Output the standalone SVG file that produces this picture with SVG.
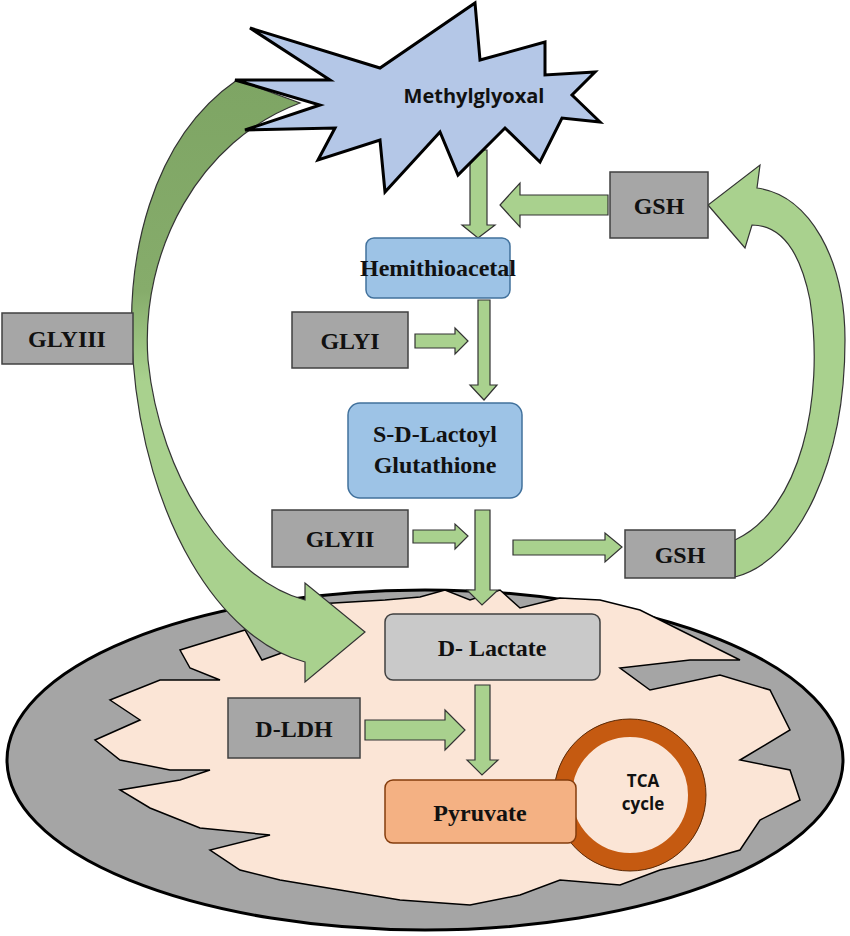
<svg xmlns="http://www.w3.org/2000/svg" width="850" height="936" viewBox="0 0 850 936">
<style>
.g{fill:#a6a6a6;stroke:#404040;stroke-width:1.5}
.b{fill:#9dc3e6;stroke:#41719c;stroke-width:1.5}
.t{font-family:"Liberation Serif",serif;font-weight:bold;font-size:24px;text-anchor:middle;fill:#111}
.s{font-family:"Open Sans","Liberation Sans",sans-serif;font-weight:bold;text-anchor:middle;fill:#111}
.a{fill:#a9d18e;stroke:#333;stroke-width:1.2}
</style>
<defs>
<linearGradient id="dg" x1="0" y1="0" x2="0" y2="1">
<stop offset="0" stop-color="#7ea564"/><stop offset="0.35" stop-color="#86ac6b"/><stop offset="0.5" stop-color="#a9d18e"/><stop offset="1" stop-color="#a9d18e"/>
</linearGradient>
</defs>
<g id="mito">
<ellipse cx="425" cy="760" rx="418" ry="170" fill="#a5a5a5" stroke="#000" stroke-width="3"/>
<path d="M180,650 L245,630 L262,660 L290,650 L300,605 L385,600 L420,597 L445,590 L470,600 L500,590 L520,608 L560,598 L600,600 L640,610 L700,640 L740,660 L690,660 L620,668 L650,690 L720,675 L770,690 L790,730 L740,760 L790,770 L800,800 L760,820 L740,850 L705,860 L660,870 L620,885 L560,880 L520,895 L470,905 L400,900 L340,890 L280,880 L240,870 L210,850 L270,835 L200,828 L150,808 L120,790 L180,780 L210,770 L170,770 L120,760 L95,740 L140,720 L110,700 L160,680 L220,680 L190,668 Z" fill="#fbe5d6" stroke="#000" stroke-width="1.5"/>
</g>
<g id="tca">
<circle cx="630" cy="795" r="67" fill="#fbe5d6" stroke="#c55a11" stroke-width="18"/>
<circle cx="630" cy="795" r="76" fill="none" stroke="#5a2a08" stroke-width="1"/>
<text class="s" x="643" y="787" font-size="17">TCA</text>
<text class="s" x="643" y="810" font-size="17">cycle</text>
</g>
<g id="connectors">
<path d="M237,80 C150,140 125,260 133,360 C145,520 220,640 305,662 L305,682 L365,632 L305,583 L305,600 C230,580 160,480 148,360 C140,250 200,140 300,103 Z" fill="url(#dg)" stroke="#333" stroke-width="1.2"/>
<path class="a" d="M735,540 C800,510 825,400 810,300 C800,250 780,225 752,225 L745,248 L708,205 L760,165 L757,188 C810,195 845,260 845,340 C845,460 800,560 735,577 Z"/>
<path class="a" d="M470,150 L487,150 L487,225 L495,225 L478,238 L462,225 L470,225 Z"/>
<path class="a" d="M608,195 L520,195 L520,183 L500,205 L520,227 L520,215 L608,215 Z"/>
<path class="a" d="M478,300 L490,300 L490,385 L497,385 L484,400 L470,385 L478,385 Z"/>
<path class="a" d="M415,334 L455,334 L455,328 L468,341 L455,354 L455,348 L415,348 Z"/>
<path class="a" d="M475,510 L490,510 L490,590 L498,590 L482,605 L467,590 L475,590 Z"/>
<path class="a" d="M413,530 L455,530 L455,524 L468,536 L455,549 L455,543 L413,543 Z"/>
<path class="a" d="M513,540 L605,540 L605,533 L622,547 L605,562 L605,555 L513,555 Z"/>
<path class="a" d="M475,685 L490,685 L490,760 L498,760 L482,775 L467,760 L475,760 Z"/>
<path class="a" d="M365,720 L445,720 L445,710 L465,730 L445,750 L445,740 L365,740 Z"/>
</g>
<g id="methylglyoxal">
<polygon points="250,28 380,68 475,3 480,60 545,42 545,75 595,72 572,95 600,122 562,118 540,162 505,128 458,175 440,132 385,192 380,140 318,160 335,128 245,130 320,105 235,80 330,80" fill="#b4c7e7" stroke="#000" stroke-width="3" stroke-linejoin="miter"/>
<text class="s" x="474" y="103" font-size="20">Methylglyoxal</text>
</g>
<g id="gsh1"><rect class="g" x="610" y="172" width="98" height="66"/><text class="t" x="659" y="214">GSH</text></g>
<g id="hemi"><rect class="b" x="366" y="238" width="144" height="60" rx="8"/><text class="t" x="438" y="276" font-size="22">Hemithioacetal</text></g>
<g id="glyi"><rect class="g" x="292" y="312" width="116" height="56"/><text class="t" x="350" y="349">GLYI</text></g>
<g id="glyiii"><rect class="g" x="2" y="313" width="131" height="51"/><text class="t" x="67" y="347">GLYIII</text></g>
<g id="sdl"><rect class="b" x="348" y="403" width="174" height="95" rx="12"/><text class="t" x="435" y="442" font-size="22">S-D-Lactoyl</text><text class="t" x="435" y="473" font-size="22">Glutathione</text></g>
<g id="glyii"><rect class="g" x="272" y="510" width="136" height="57"/><text class="t" x="340" y="547">GLYII</text></g>
<g id="gsh2"><rect class="g" x="625" y="530" width="110" height="48"/><text class="t" x="680" y="563">GSH</text></g>
<g id="dlac"><rect x="385" y="614" width="215" height="66" rx="8" fill="#c9c9c9" stroke="#404040" stroke-width="1.5"/><text class="t" x="492" y="656">D- Lactate</text></g>
<g id="dldh"><rect class="g" x="228" y="698" width="132" height="60"/><text class="t" x="294" y="737">D-LDH</text></g>
<g id="pyr"><rect x="385" y="780" width="191" height="63" rx="8" fill="#f4b183" stroke="#843c0c" stroke-width="1.5"/><text class="t" x="480" y="821" font-size="26">Pyruvate</text></g>
</svg>
